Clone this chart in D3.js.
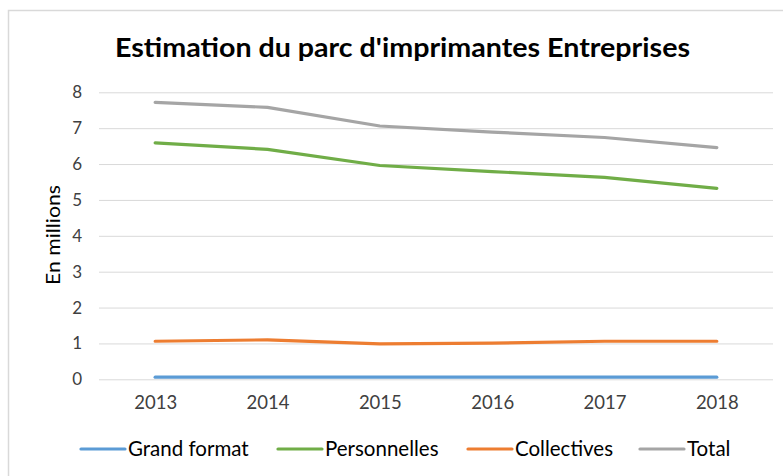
<!DOCTYPE html>
<html>
<head>
<meta charset="utf-8">
<script src="https://cdn.jsdelivr.net/npm/d3@7/dist/d3.min.js"></script>
<style>
  html, body { margin: 0; padding: 0; background: #fff; }
  svg { display: block; }
  text { font-family: Lato, "Open Sans", sans-serif; fill: #404040; }
</style>
</head>
<body>
<svg id="chart" width="783" height="476"></svg>
<script>
const years = ["2013", "2014", "2015", "2016", "2017", "2018"];
const grandFormat = [0.06, 0.06, 0.06, 0.06, 0.06, 0.06];
const personnelles = [6.59, 6.41, 5.96, 5.79, 5.63, 5.32];
const collectives = [1.06, 1.10, 0.99, 1.01, 1.06, 1.06];
const total = [7.72, 7.58, 7.06, 6.89, 6.74, 6.46];
const yTicks = [0, 1, 2, 3, 4, 5, 6, 7, 8];
const seriesNames = ["Grand format", "Personnelles", "Collectives", "Total"];
const seriesColors = ["#5B9BD5", "#70AD47", "#ED7D31", "#A5A5A5"];
const titleText = "Estimation du parc d'imprimantes Entreprises";
const yTitle = "En millions";

const series = [grandFormat, personnelles, collectives, total].map((v, i) => ({
  name: seriesNames[i], color: seriesColors[i], values: v
}));

const svg = d3.select("#chart");

// outer frame
svg.append("rect")
  .attr("x", 8.5).attr("y", 10.5)
  .attr("width", 800).attr("height", 500)
  .attr("fill", "#fff").attr("stroke", "#d9d9d9").attr("stroke-width", 1.5);

const plot = { left: 99, right: 773, top: 92.3, bottom: 379.3 };

const x = d3.scalePoint().domain(years).range([plot.left, plot.right]).padding(0.5);
const y = d3.scaleLinear().domain([0, 8]).range([plot.bottom, plot.top]);

// title
svg.append("text")
  .attr("x", 115).attr("y", 57)
  .attr("textLength", 575).attr("lengthAdjust", "spacingAndGlyphs")
  .style("font-size", "26px").style("font-weight", "bold").style("fill", "#000")
  .text(titleText);

// gridlines
const yAxis = d3.axisLeft(y).tickValues(yTicks).tickSize(-(plot.right - plot.left)).tickPadding(17).tickFormat(d3.format("d"));
const gy = svg.append("g").attr("transform", `translate(${plot.left},0)`).call(yAxis);
gy.select(".domain").remove();
gy.selectAll(".tick line").attr("stroke", "#d9d9d9").attr("stroke-width", 1);
gy.selectAll(".tick text").style("font-size", "17px").style("fill", "#404040").attr("font-family", "Lato");

// x axis labels
const xAxis = d3.axisBottom(x).tickSize(0).tickPadding(17);
const gx = svg.append("g").attr("transform", `translate(0,${plot.bottom})`).call(xAxis);
gx.select(".domain").remove();
gx.selectAll(".tick text").style("font-size", "18.5px").style("fill", "#404040").attr("font-family", "Lato");

// y title
svg.append("text")
  .attr("transform", "translate(60,235) rotate(-90)")
  .attr("text-anchor", "middle")
  .attr("textLength", 100).attr("lengthAdjust", "spacingAndGlyphs")
  .style("font-size", "20px").style("fill", "#000")
  .text(yTitle);

// lines
const line = d3.line().x((d, i) => x(years[i])).y(d => y(d));
svg.append("g").selectAll("path").data(series).join("path")
  .attr("d", d => line(d.values))
  .attr("fill", "none")
  .attr("stroke", d => d.color)
  .attr("stroke-width", 3.2)
  .attr("stroke-linecap", "round")
  .attr("stroke-linejoin", "round");

// legend
const legendX = [81, 278, 468, 640];
const lg = svg.append("g").selectAll("g").data(series).join("g")
  .attr("transform", (d, i) => `translate(${legendX[i]},449)`);
lg.append("line").attr("x1", 0).attr("x2", 44).attr("y1", 0).attr("y2", 0)
  .attr("stroke", d => d.color).attr("stroke-width", 3.2).attr("stroke-linecap", "round");
lg.append("text").attr("x", 47).attr("y", 7)
  .style("font-size", "20.5px").style("fill", "#000")
  .text(d => d.name);
</script>
</body>
</html>
